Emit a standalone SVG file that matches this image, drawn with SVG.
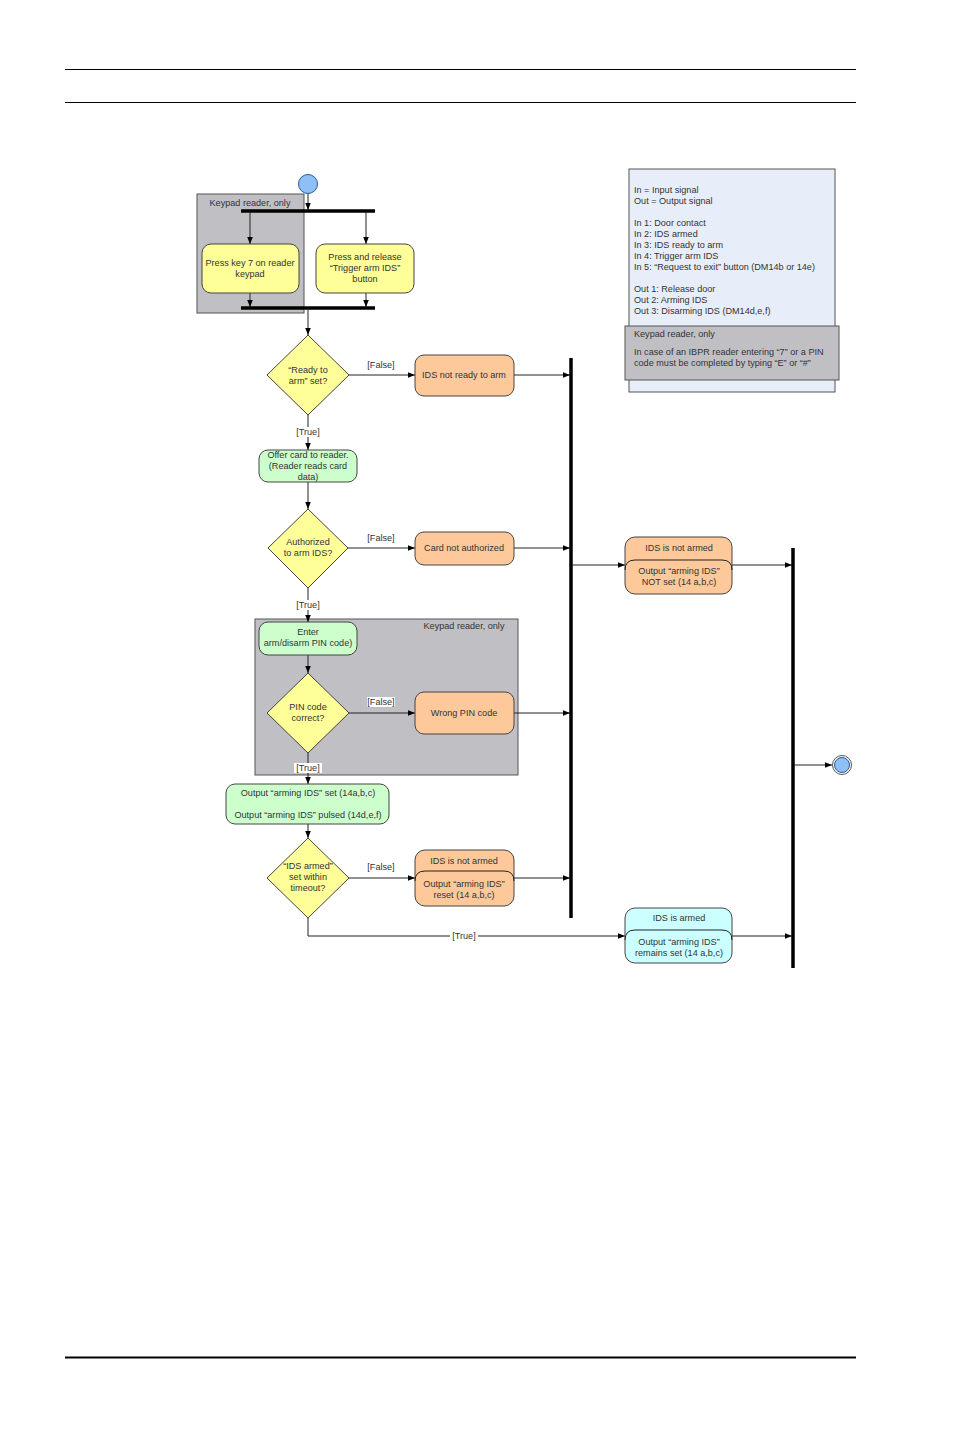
<svg xmlns="http://www.w3.org/2000/svg" width="954" height="1430" viewBox="0 0 954 1430">
<style>
text{font-family:"Liberation Sans",Arial,sans-serif;font-size:9.1px;fill:#333;}
.c{text-anchor:middle;}
.ln{stroke:#222;stroke-width:1;fill:none;}
.bar{stroke:#000;stroke-width:3.5;}
.grp{fill:#c0c0c4;stroke:#555;stroke-width:1;}
.y{fill:#ffff99;stroke:#444;stroke-width:1;}
.o{fill:#fdc99a;stroke:#444;stroke-width:1;}
.g{fill:#ccffcc;stroke:#444;stroke-width:1;}
.cy{fill:#ccffff;stroke:#444;stroke-width:1;}
.lbl{fill:#fff;}
</style>
<defs>
<marker id="ah" viewBox="0 0 10 10" refX="10" refY="5" markerWidth="7" markerHeight="7" orient="auto" markerUnits="userSpaceOnUse">
<path d="M0,1 L10,5 L0,9 z" fill="#000"/>
</marker>
</defs>
<rect width="954" height="1430" fill="#fff"/>
<g id="page">
<line x1="65" y1="69.5" x2="856" y2="69.5" stroke="#000" stroke-width="1"/>
<line x1="65" y1="102.5" x2="856" y2="102.5" stroke="#000" stroke-width="1"/>
<line x1="65" y1="1357.5" x2="856" y2="1357.5" stroke="#000" stroke-width="2"/>
</g>
<g id="keypad-group-1">
<rect class="grp" x="197" y="194" width="107" height="119"/>
<text class="c" x="250" y="206">Keypad reader, only</text>
</g>
<g id="keypad-group-2">
<rect class="grp" x="255" y="619" width="263" height="156"/>
<text class="c" x="464" y="629">Keypad reader, only</text>
</g>
<g id="legend">
<rect x="629" y="169" width="206" height="223" fill="#e8eef9" stroke="#555"/>
<text x="634" y="193">In = Input signal</text>
<text x="634" y="204">Out = Output signal</text>
<text x="634" y="226">In 1: Door contact</text>
<text x="634" y="237">In 2: IDS armed</text>
<text x="634" y="248">In 3: IDS ready to arm</text>
<text x="634" y="259">In 4: Trigger arm IDS</text>
<text x="634" y="270">In 5: “Request to exit” button (DM14b or 14e)</text>
<text x="634" y="292">Out 1: Release door</text>
<text x="634" y="303">Out 2: Arming IDS</text>
<text x="634" y="314">Out 3: Disarming IDS (DM14d,e,f)</text>
<rect x="625" y="326" width="214" height="54" fill="#c0c0c4" stroke="#555"/>
<text x="634" y="337">Keypad reader, only</text>
<text x="634" y="355">In case of an IBPR reader entering “7” or a PIN</text>
<text x="634" y="366">code must be completed by typing “E” or “#”</text>
</g>
<g id="connectors">
<line class="ln" x1="308" y1="193" x2="308" y2="210" marker-end="url(#ah)"/>
<line class="bar" x1="241" y1="211" x2="375" y2="211"/>
<line class="ln" x1="250" y1="212" x2="250" y2="244" marker-end="url(#ah)"/>
<line class="ln" x1="366" y1="212" x2="366" y2="244" marker-end="url(#ah)"/>
<line class="ln" x1="250" y1="293" x2="250" y2="307" marker-end="url(#ah)"/>
<line class="ln" x1="366" y1="293" x2="366" y2="307" marker-end="url(#ah)"/>
<line class="bar" x1="241" y1="308" x2="375" y2="308"/>
<line class="ln" x1="308" y1="309" x2="308" y2="335" marker-end="url(#ah)"/>
<line class="ln" x1="349" y1="375" x2="415" y2="375" marker-end="url(#ah)"/>
<line class="ln" x1="514" y1="375" x2="570" y2="375" marker-end="url(#ah)"/>
<line class="ln" x1="308" y1="415" x2="308" y2="450" marker-end="url(#ah)"/>
<line class="ln" x1="308" y1="482" x2="308" y2="509" marker-end="url(#ah)"/>
<line class="ln" x1="348" y1="548" x2="415" y2="548" marker-end="url(#ah)"/>
<line class="ln" x1="514" y1="548" x2="570" y2="548" marker-end="url(#ah)"/>
<line class="ln" x1="308" y1="588" x2="308" y2="622" marker-end="url(#ah)"/>
<line class="ln" x1="308" y1="655" x2="308" y2="673" marker-end="url(#ah)"/>
<line class="ln" x1="349" y1="713" x2="415" y2="713" marker-end="url(#ah)"/>
<line class="ln" x1="514" y1="713" x2="570" y2="713" marker-end="url(#ah)"/>
<line class="ln" x1="308" y1="753" x2="308" y2="784" marker-end="url(#ah)"/>
<line class="ln" x1="308" y1="824" x2="308" y2="838" marker-end="url(#ah)"/>
<line class="ln" x1="349" y1="878" x2="415" y2="878" marker-end="url(#ah)"/>
<line class="ln" x1="514" y1="878" x2="570" y2="878" marker-end="url(#ah)"/>
<polyline class="ln" points="308,918 308,936 625,936" marker-end="url(#ah)"/>
<line class="bar" x1="571" y1="358" x2="571" y2="918"/>
<line class="ln" x1="572" y1="565" x2="625" y2="565" marker-end="url(#ah)"/>
<line class="ln" x1="732" y1="565" x2="792" y2="565" marker-end="url(#ah)"/>
<line class="ln" x1="732" y1="936" x2="792" y2="936" marker-end="url(#ah)"/>
<line class="bar" x1="793" y1="548" x2="793" y2="968"/>
<line class="ln" x1="794" y1="765" x2="832" y2="765" marker-end="url(#ah)"/>
<text class="c" x="381" y="368">[False]</text>
<text class="c" x="381" y="541">[False]</text>
<rect class="lbl" x="367" y="697" width="28" height="10"/>
<text class="c" x="381" y="705">[False]</text>
<text class="c" x="381" y="870">[False]</text>
<rect class="lbl" x="294" y="427" width="28" height="10"/>
<text class="c" x="308" y="435">[True]</text>
<rect class="lbl" x="294" y="600" width="28" height="10"/>
<text class="c" x="308" y="608">[True]</text>
<rect class="lbl" x="294" y="763" width="28" height="10"/>
<text class="c" x="308" y="771">[True]</text>
<rect class="lbl" x="450" y="931" width="28" height="10"/>
<text class="c" x="464" y="939">[True]</text>
</g>
<g id="start">
<circle cx="308" cy="184" r="9.5" fill="#8ec0f5" stroke="#2a5a9a" stroke-width="1"/>
</g>
<g id="press-key-7">
<rect class="y" x="202" y="244" width="97" height="49" rx="9"/>
<text class="c" x="250" y="266">Press key 7 on reader</text>
<text class="c" x="250" y="277">keypad</text>
</g>
<g id="press-release">
<rect class="y" x="316" y="244" width="98" height="49" rx="9"/>
<text class="c" x="365" y="260">Press and release</text>
<text class="c" x="365" y="271">“Trigger arm IDS”</text>
<text class="c" x="365" y="282">button</text>
</g>
<g id="ready-to-arm">
<polygon class="y" points="308,335 349,375 308,415 267,375"/>
<text class="c" x="308" y="373">“Ready to</text>
<text class="c" x="308" y="384">arm” set?</text>
</g>
<g id="not-ready">
<rect class="o" x="415" y="355" width="99" height="41" rx="9"/>
<text class="c" x="464" y="378">IDS not ready to arm</text>
</g>
<g id="offer-card">
<rect class="g" x="259" y="450" width="98" height="32" rx="9"/>
<text class="c" x="308" y="458">Offer card to reader.</text>
<text class="c" x="308" y="469">(Reader reads card</text>
<text class="c" x="308" y="480">data)</text>
</g>
<g id="authorized">
<polygon class="y" points="308,509 348,548 308,588 268,548"/>
<text class="c" x="308" y="545">Authorized</text>
<text class="c" x="308" y="556">to arm IDS?</text>
</g>
<g id="card-not-authorized">
<rect class="o" x="415" y="532" width="99" height="33" rx="9"/>
<text class="c" x="464" y="551">Card not authorized</text>
</g>
<g id="enter-pin">
<rect class="g" x="259" y="622" width="98" height="33" rx="9"/>
<text class="c" x="308" y="635">Enter</text>
<text class="c" x="308" y="646">arm/disarm PIN code)</text>
</g>
<g id="pin-correct">
<polygon class="y" points="308,673 349,713 308,753 267,713"/>
<text class="c" x="308" y="710">PIN code</text>
<text class="c" x="308" y="721">correct?</text>
</g>
<g id="wrong-pin">
<rect class="o" x="415" y="692" width="99" height="42" rx="9"/>
<text class="c" x="464" y="716">Wrong PIN code</text>
</g>
<g id="output-set">
<rect class="g" x="226" y="784" width="163" height="40" rx="9"/>
<text class="c" x="308" y="796">Output “arming IDS” set (14a,b,c)</text>
<text class="c" x="308" y="818">Output “arming IDS” pulsed (14d,e,f)</text>
</g>
<g id="ids-armed-timeout">
<polygon class="y" points="308,838 349,878 308,918 267,878"/>
<text class="c" x="308" y="869">“IDS armed”</text>
<text class="c" x="308" y="880">set within</text>
<text class="c" x="308" y="891">timeout?</text>
</g>
<g id="not-armed-reset">
<rect class="o" x="415" y="850" width="99" height="56" rx="10"/>
<path class="ln" d="M415,881 Q415,871 425,871 L504,871 Q514,871 514,881" stroke="#444"/>
<text class="c" x="464" y="864">IDS is not armed</text>
<text class="c" x="464" y="887">Output “arming IDS”</text>
<text class="c" x="464" y="898">reset (14 a,b,c)</text>
</g>
<g id="not-armed-notset">
<rect class="o" x="625" y="537" width="107" height="57" rx="10"/>
<path class="ln" d="M625,570 Q625,560 635,560 L722,560 Q732,560 732,570" stroke="#444"/>
<text class="c" x="679" y="551">IDS is not armed</text>
<text class="c" x="679" y="574">Output “arming IDS”</text>
<text class="c" x="679" y="585">NOT set (14 a,b,c)</text>
</g>
<g id="ids-armed">
<rect class="cy" x="625" y="908" width="107" height="55" rx="10"/>
<path class="ln" d="M625,940 Q625,930 635,930 L722,930 Q732,930 732,940" stroke="#444"/>
<text class="c" x="679" y="921">IDS is armed</text>
<text class="c" x="679" y="945">Output “arming IDS”</text>
<text class="c" x="679" y="956">remains set (14 a,b,c)</text>
</g>
<g id="end">
<circle cx="842" cy="765" r="9.5" fill="#fff" stroke="#555" stroke-width="1"/>
<circle cx="842" cy="765" r="7.5" fill="#8ec0f5" stroke="#2a5a9a" stroke-width="1"/>
</g>
</svg>
